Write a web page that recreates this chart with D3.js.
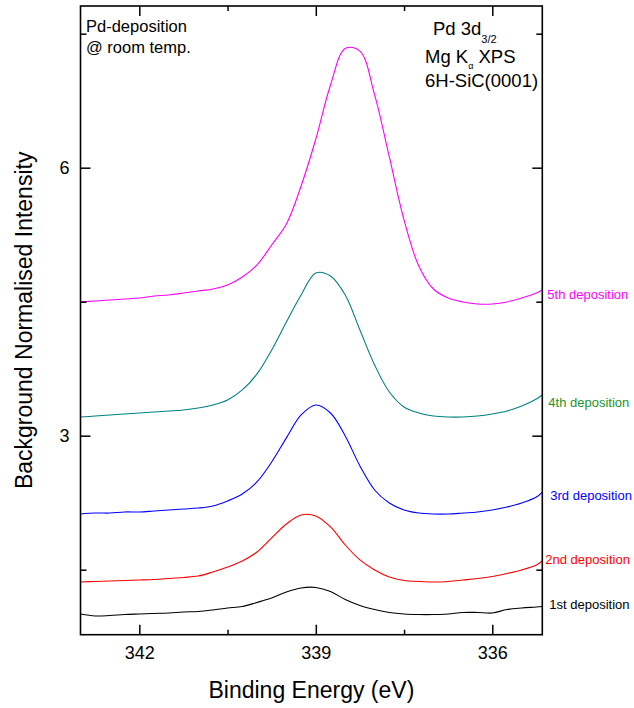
<!DOCTYPE html>
<html>
<head>
<meta charset="utf-8">
<script src="https://cdn.jsdelivr.net/npm/d3@7"></script>
<style>
  body { margin: 0; background: #fff; }
  svg text { font-family: "Liberation Sans", Arial, sans-serif; }
</style>
</head>
<body>
<svg id="chart"></svg>
<script>
// binding energy grid (eV)
var energy = [343.0, 342.75, 342.5, 342.25, 342.0, 341.75, 341.5, 341.25, 341.0, 340.75,
  340.5, 340.25, 340.0, 339.75, 339.5, 339.25, 339.0, 338.75, 338.5, 338.25, 338.0,
  337.75, 337.5, 337.25, 337.0, 336.75, 336.5, 336.25, 336.0, 335.75, 335.5, 335.25, 335.15];

var dep1 = [1.004, 0.982, 0.987, 0.998, 1.004, 1.010, 1.015, 1.026, 1.032, 1.049, 1.071,
  1.088, 1.133, 1.183, 1.250, 1.295, 1.301, 1.256, 1.166, 1.099, 1.054, 1.021, 1.004,
  0.998, 0.998, 1.004, 1.021, 1.021, 1.015, 1.054, 1.071, 1.082, 1.088];
var dep2 = [1.362, 1.368, 1.373, 1.379, 1.384, 1.390, 1.401, 1.413, 1.429, 1.474, 1.530,
  1.597, 1.698, 1.855, 2.011, 2.112, 2.101, 1.978, 1.777, 1.609, 1.497, 1.418, 1.379,
  1.368, 1.362, 1.368, 1.384, 1.401, 1.424, 1.457, 1.497, 1.553, 1.597];
var dep3 = [2.123, 2.134, 2.134, 2.146, 2.146, 2.157, 2.168, 2.179, 2.190, 2.213, 2.269,
  2.347, 2.482, 2.706, 2.975, 3.232, 3.344, 3.254, 2.997, 2.661, 2.392, 2.246, 2.168,
  2.134, 2.123, 2.123, 2.134, 2.146, 2.168, 2.201, 2.246, 2.313, 2.369];
var dep4 = [3.209, 3.220, 3.232, 3.243, 3.254, 3.265, 3.276, 3.288, 3.310, 3.344, 3.400,
  3.512, 3.691, 3.960, 4.273, 4.575, 4.821, 4.788, 4.575, 4.183, 3.791, 3.489, 3.321,
  3.254, 3.220, 3.209, 3.209, 3.220, 3.243, 3.276, 3.332, 3.411, 3.455];
var dep5 = [4.497, 4.508, 4.519, 4.530, 4.541, 4.564, 4.575, 4.597, 4.620, 4.642, 4.687,
  4.777, 4.911, 5.135, 5.370, 5.795, 6.321, 6.926, 7.335, 7.305, 6.814, 6.120, 5.415,
  4.900, 4.642, 4.541, 4.497, 4.474, 4.474, 4.497, 4.541, 4.597, 4.631];

var seriesNames = ["1st deposition", "2nd deposition", "3rd deposition", "4th deposition", "5th deposition"];
var lineColors = ["#000000", "#ff0000", "#0000ff", "#008080", "#ff00ff"];
var labelColors = ["#000000", "#ff0000", "#0000ff", "#22942a", "#ff00ff"];

var xMajor = [342, 339, 336];
var xMinor = [340.5, 337.5];
var yMajor = [3, 6];
var yMinor = [1.5, 4.5, 7.5];

var W = 634, H = 708;
var pLeft = 80.5, pRight = 542.3, pTop = 6, pBottom = 634.7;

var svg = d3.select("#chart").attr("width", W).attr("height", H);

var x = d3.scaleLinear().domain([343.0, 335.15]).range([pLeft, pRight]);
var y = d3.scaleLinear().domain([0.772, 7.81]).range([pBottom, pTop]);

// curves
var allSeries = [dep1, dep2, dep3, dep4, dep5];
var line = d3.line()
  .x(function (d, i) { return x(energy[i]); })
  .y(function (d) { return y(d); })
  .curve(d3.curveCatmullRom.alpha(0.5));

svg.append("g")
  .selectAll("path")
  .data(allSeries)
  .enter()
  .append("path")
  .attr("d", line)
  .attr("fill", "none")
  .attr("stroke", function (d, i) { return lineColors[i]; })
  .attr("stroke-width", 1.1);

// axes, ticks pointing inwards
function styleAxis(g) {
  g.select(".domain").remove();
  g.selectAll(".tick line").attr("stroke", "#000").attr("stroke-width", 1.5);
  g.selectAll("text").attr("fill", "#000").style("font-size", "18px");
}

svg.append("g")
  .attr("transform", "translate(0," + pBottom + ")")
  .call(d3.axisBottom(x).tickValues(xMajor).tickSize(-10).tickPadding(12).tickFormat(d3.format("d")))
  .call(styleAxis);
svg.append("g")
  .attr("transform", "translate(0," + pBottom + ")")
  .call(d3.axisBottom(x).tickValues(xMinor).tickSize(-5).tickFormat(""))
  .call(styleAxis);
svg.append("g")
  .attr("transform", "translate(0," + pTop + ")")
  .call(d3.axisTop(x).tickValues(xMajor).tickSize(-10).tickFormat(""))
  .call(styleAxis);
svg.append("g")
  .attr("transform", "translate(0," + pTop + ")")
  .call(d3.axisTop(x).tickValues(xMinor).tickSize(-5).tickFormat(""))
  .call(styleAxis);

svg.append("g")
  .attr("transform", "translate(" + pLeft + ",0)")
  .call(d3.axisLeft(y).tickValues(yMajor).tickSize(-10).tickPadding(11).tickFormat(d3.format("d")))
  .call(styleAxis);
svg.append("g")
  .attr("transform", "translate(" + pLeft + ",0)")
  .call(d3.axisLeft(y).tickValues(yMinor).tickSize(-6).tickFormat(""))
  .call(styleAxis);
svg.append("g")
  .attr("transform", "translate(" + pRight + ",0)")
  .call(d3.axisRight(y).tickValues(yMajor).tickSize(-10).tickFormat(""))
  .call(styleAxis);
svg.append("g")
  .attr("transform", "translate(" + pRight + ",0)")
  .call(d3.axisRight(y).tickValues(yMinor).tickSize(-6).tickFormat(""))
  .call(styleAxis);

// frame
svg.append("rect")
  .attr("x", pLeft).attr("y", pTop)
  .attr("width", pRight - pLeft).attr("height", pBottom - pTop)
  .attr("fill", "none").attr("stroke", "#000").attr("stroke-width", 1.6);

// series labels at the right end of each curve
var labelDx = [7, 3, 8, 6, 5];
var labelDy = [-2, -2, 3, 7, 4];
svg.append("g")
  .selectAll("text")
  .data(allSeries)
  .enter()
  .append("text")
  .attr("x", function (d, i) { return pRight + labelDx[i]; })
  .attr("y", function (d, i) { return y(d[d.length - 1]) + labelDy[i]; })
  .attr("dy", "0.35em")
  .attr("fill", function (d, i) { return labelColors[i]; })
  .style("font-size", "13px")
  .text(function (d, i) { return seriesNames[i]; });

// axis titles
svg.append("text")
  .attr("x", (pLeft + pRight) / 2)
  .attr("y", 698)
  .attr("text-anchor", "middle")
  .style("font-size", "23px")
  .text("Binding Energy (eV)");

svg.append("text")
  .attr("transform", "translate(32," + ((pTop + pBottom) / 2) + ") rotate(-90)")
  .attr("text-anchor", "middle")
  .style("font-size", "23px")
  .text("Background Normalised Intensity");

// notes
var note = svg.append("g").style("font-size", "16.5px");
note.append("text").attr("x", 86).attr("y", 32).text("Pd-deposition");
note.append("text").attr("x", 86).attr("y", 53).text("@ room temp.");

var info = svg.append("g").style("font-size", "18.5px");
var t1 = info.append("text").attr("x", 433).attr("y", 35);
t1.append("tspan").text("Pd 3d");
t1.append("tspan").attr("dy", 8).style("font-size", "11px").text("3/2");
var t2 = info.append("text").attr("x", 425).attr("y", 63);
t2.append("tspan").text("Mg K");
t2.append("tspan").attr("dy", 6).style("font-size", "9px").text("\u03b1");
t2.append("tspan").attr("dy", -6).text(" XPS");
info.append("text").attr("x", 425).attr("y", 87).text("6H-SiC(0001)");
</script>
</body>
</html>
